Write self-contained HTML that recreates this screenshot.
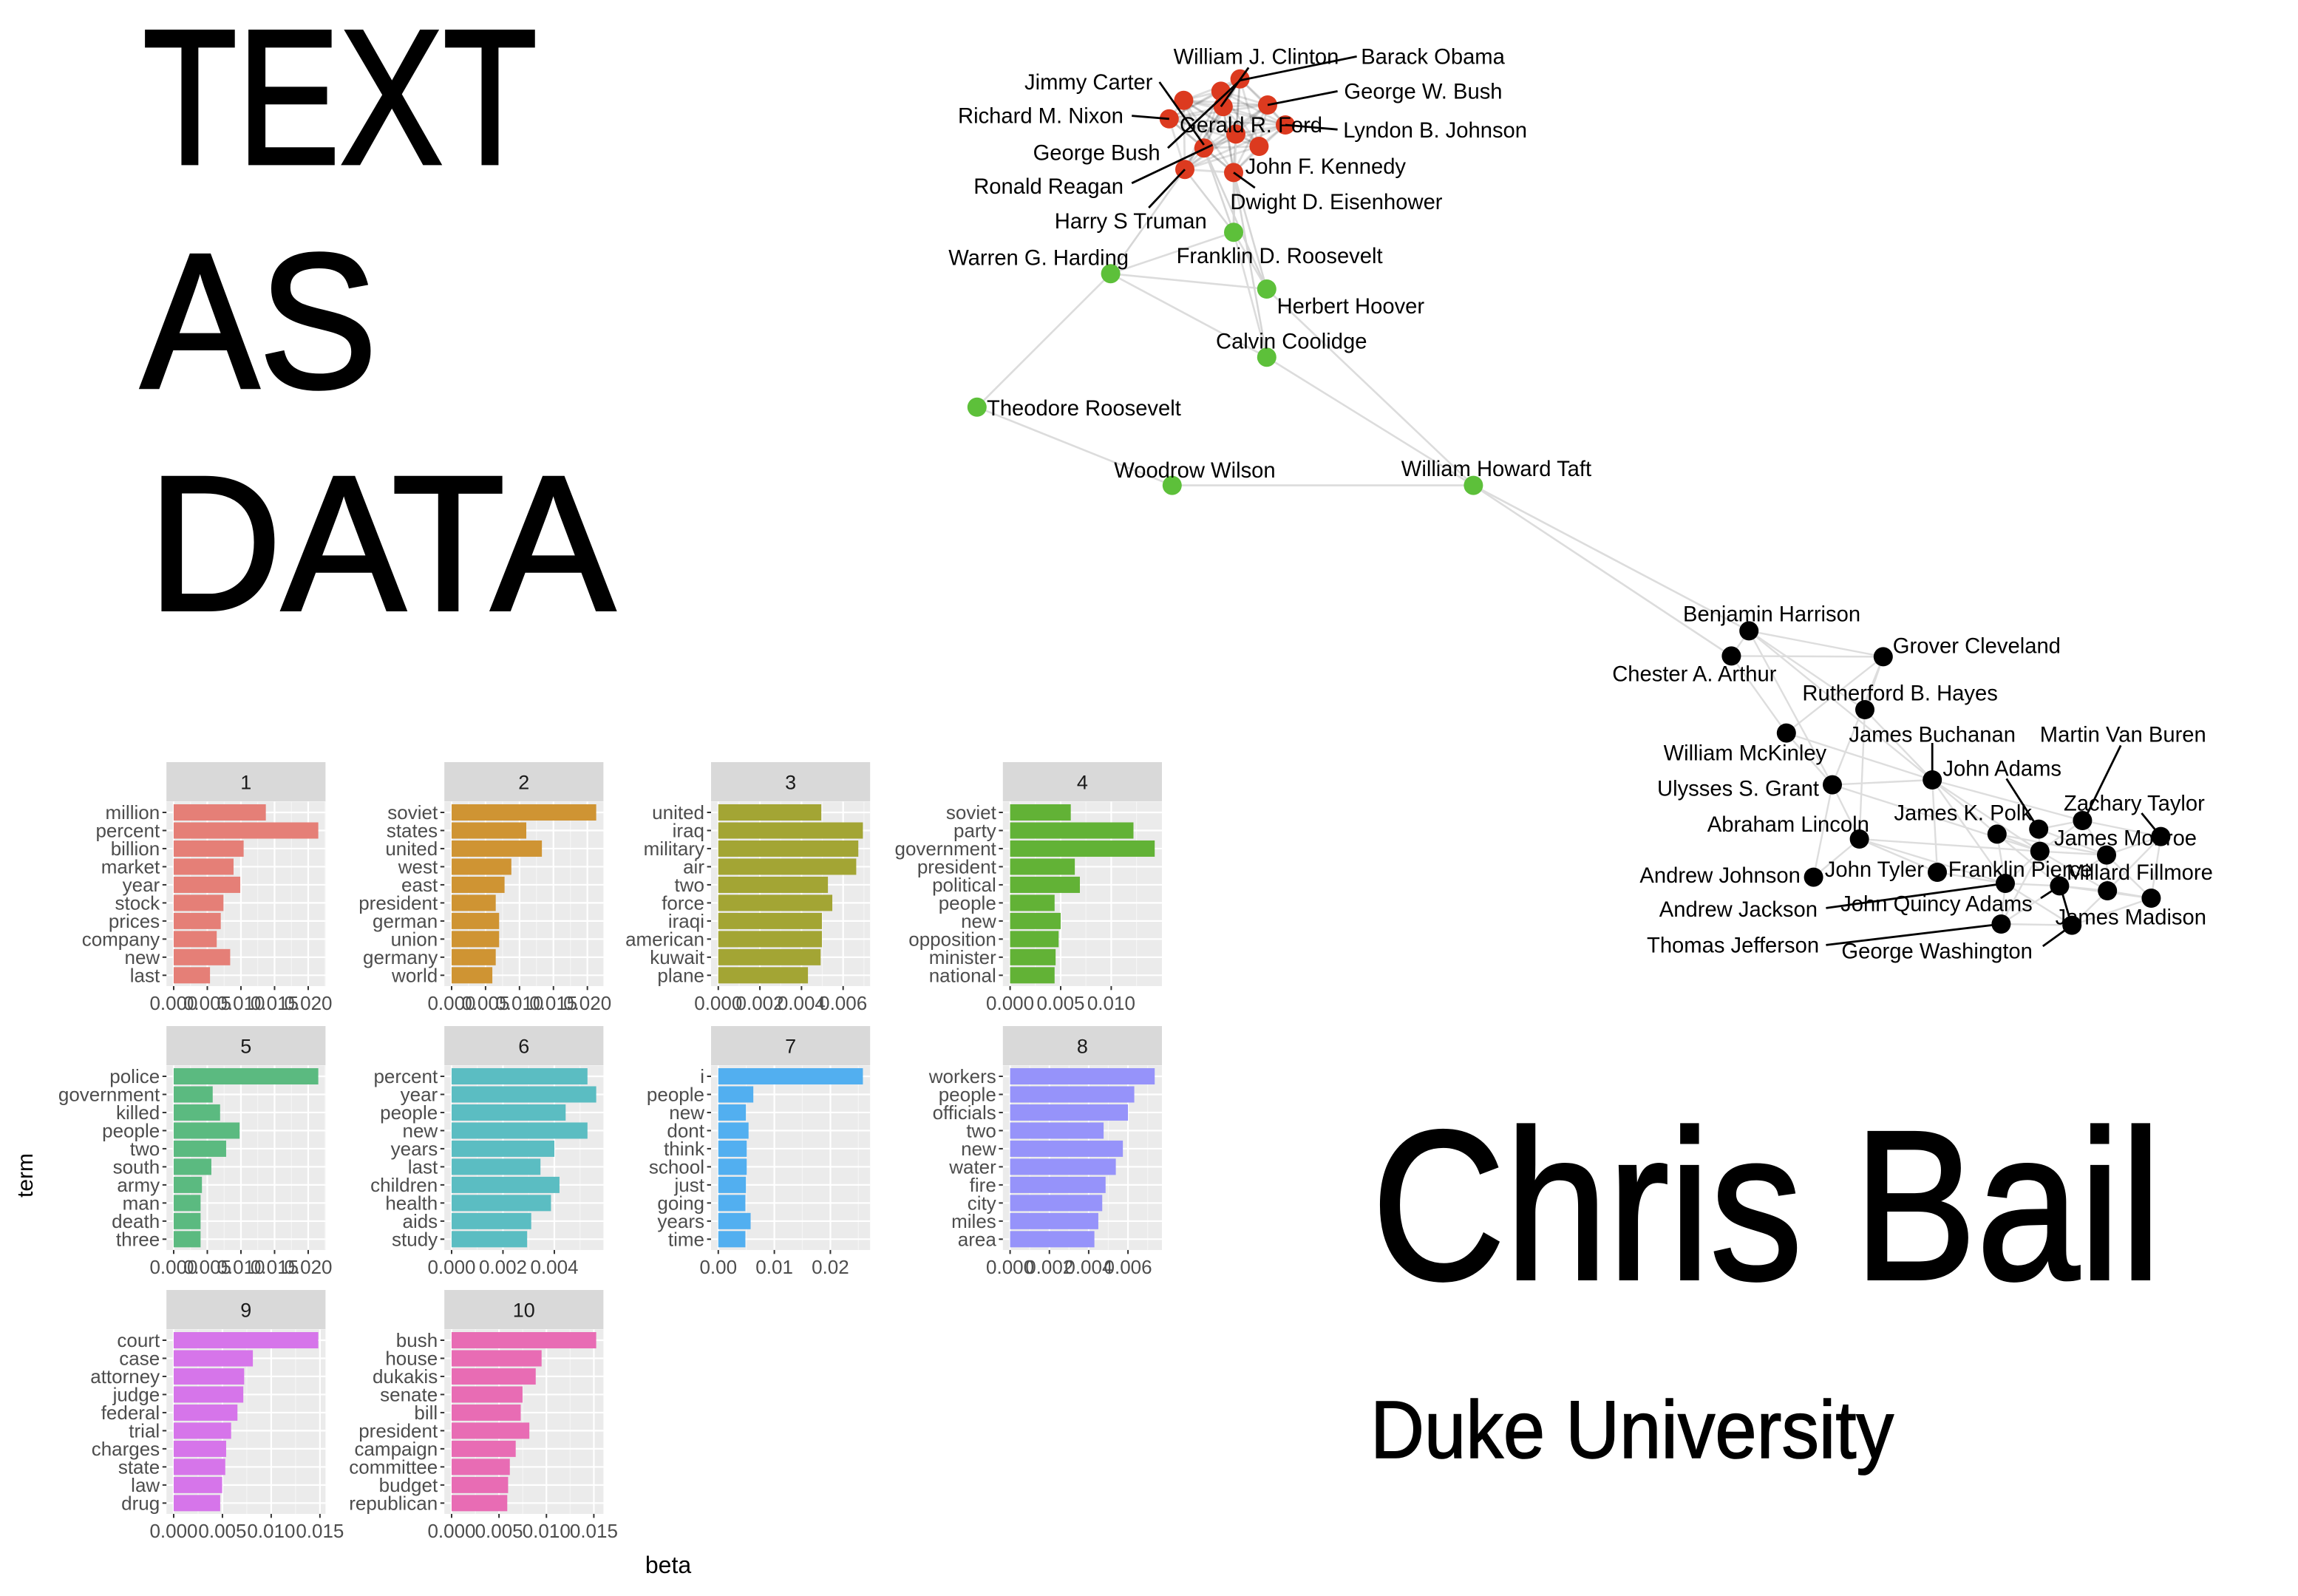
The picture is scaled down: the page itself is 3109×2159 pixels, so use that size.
<!DOCTYPE html>
<html><head><meta charset="utf-8"><style>
html,body{margin:0;padding:0;background:#fff;}
svg{display:block;}
text{font-family:"Liberation Sans",sans-serif;}
</style></head><body>
<svg id="root" xmlns="http://www.w3.org/2000/svg" width="3109" height="2159" viewBox="0 0 1554.5 1079.5">
<rect x="0" y="0" width="1554.5" height="1079.5" fill="#fff"/>
<g fill="#000" stroke="#000" stroke-width="2.2">
<text x="96.6" y="110.6" font-size="130" textLength="266.8" lengthAdjust="spacingAndGlyphs">TEXT</text>
<text x="95.2" y="262" font-size="130" textLength="160" lengthAdjust="spacingAndGlyphs">AS</text>
<text x="100" y="412.4" font-size="130" textLength="316" lengthAdjust="spacingAndGlyphs">DATA</text>
</g>
<text x="928" y="865" font-size="144" fill="#000" stroke="#000" stroke-width="2" textLength="534" lengthAdjust="spacingAndGlyphs">Chris Bail</text>
<text x="927" y="986" font-size="55" fill="#000" stroke="#000" stroke-width="0.8" textLength="354" lengthAdjust="spacingAndGlyphs">Duke University</text>
<g id="net"></g>
<g id="bars"></g>
</svg>
<script>
// ---- Topic model data ----
const topicIds = ["1","2","3","4","5","6","7","8","9","10"];
const terms1 = ["million","percent","billion","market","year","stock","prices","company","new","last"];
const betas1 = [0.0137,0.0215,0.0104,0.0089,0.0099,0.0074,0.0070,0.0064,0.0084,0.0054];
const terms2 = ["soviet","states","united","west","east","president","german","union","germany","world"];
const betas2 = [0.0213,0.0110,0.0133,0.0088,0.0078,0.0065,0.0070,0.0070,0.0065,0.0060];
const terms3 = ["united","iraq","military","air","two","force","iraqi","american","kuwait","plane"];
const betas3 = [0.00495,0.00695,0.00673,0.00663,0.00527,0.00548,0.00498,0.00498,0.00492,0.00431];
const terms4 = ["soviet","party","government","president","political","people","new","opposition","minister","national"];
const betas4 = [0.0060,0.0122,0.0143,0.0064,0.0069,0.0044,0.0050,0.0048,0.0045,0.0044];
const terms5 = ["police","government","killed","people","two","south","army","man","death","three"];
const betas5 = [0.0215,0.0058,0.0069,0.0098,0.0078,0.0056,0.0042,0.0040,0.0040,0.0040];
const terms6 = ["percent","year","people","new","years","last","children","health","aids","study"];
const betas6 = [0.00529,0.00563,0.00444,0.00529,0.0040,0.00346,0.0042,0.00387,0.0031,0.00294];
const terms7 = ["i","people","new","dont","think","school","just","going","years","time"];
const betas7 = [0.0258,0.00625,0.00493,0.0054,0.00507,0.00507,0.00493,0.00483,0.00577,0.00483];
const terms8 = ["workers","people","officials","two","new","water","fire","city","miles","area"];
const betas8 = [0.00736,0.00632,0.0060,0.00476,0.00574,0.00538,0.00486,0.00469,0.00449,0.00429];
const terms9 = ["court","case","attorney","judge","federal","trial","charges","state","law","drug"];
const betas9 = [0.01483,0.00812,0.00723,0.00714,0.00654,0.00589,0.00538,0.00529,0.00497,0.00477];
const terms10 = ["bush","house","dukakis","senate","bill","president","campaign","committee","budget","republican"];
const betas10 = [0.01525,0.00949,0.00887,0.00748,0.00729,0.00820,0.00676,0.00614,0.00596,0.00587];
const tickVals1 = [0,0.005,0.010,0.015,0.020];
const tickLabs1 = ["0.000","0.005","0.010","0.015","0.020"];
const tickVals3 = [0,0.002,0.004,0.006];
const tickLabs3 = ["0.000","0.002","0.004","0.006"];
const tickVals4 = [0,0.005,0.010];
const tickLabs4 = ["0.000","0.005","0.010"];
const tickVals6 = [0,0.002,0.004];
const tickLabs6 = ["0.000","0.002","0.004"];
const tickVals7 = [0,0.01,0.02];
const tickLabs7 = ["0.00","0.01","0.02"];
const tickVals9 = [0,0.005,0.010,0.015];
const tickLabs9 = ["0.000","0.005","0.010","0.015"];

const NS="http://www.w3.org/2000/svg";
function mk(tag,attrs,parent){const e=document.createElementNS(NS,tag);for(const k in attrs)e.setAttribute(k,attrs[k]);parent.appendChild(e);return e;}

const panels=[
 {terms:terms1,betas:betas1,tv:tickVals1,tl:tickLabs1,color:"#E57F77"},
 {terms:terms2,betas:betas2,tv:tickVals1,tl:tickLabs1,color:"#CF9433"},
 {terms:terms3,betas:betas3,tv:tickVals3,tl:tickLabs3,color:"#A3A534"},
 {terms:terms4,betas:betas4,tv:tickVals4,tl:tickLabs4,color:"#62B236"},
 {terms:terms5,betas:betas5,tv:tickVals1,tl:tickLabs1,color:"#5BBA80"},
 {terms:terms6,betas:betas6,tv:tickVals6,tl:tickLabs6,color:"#5BBDC2"},
 {terms:terms7,betas:betas7,tv:tickVals7,tl:tickLabs7,color:"#52AFF0"},
 {terms:terms8,betas:betas8,tv:tickVals3,tl:tickLabs3,color:"#9693FA"},
 {terms:terms9,betas:betas9,tv:tickVals9,tl:tickLabs9,color:"#D675EA"},
 {terms:terms10,betas:betas10,tv:tickVals9,tl:tickLabs9,color:"#E86CB4"}
];
const colLeft=[112.6,300.6,481,678.4];
const rowTop=[515.5,694,872.5];
const PW=107.6, SH=26.5, STEP=12.24, FS=13;
const bars=document.getElementById('bars');
panels.forEach((p,idx)=>{
  const r=Math.floor(idx/4), c=idx%4;
  const L=colLeft[c], T=rowTop[r];
  const g=mk('g',{},bars);
  
  
  const strip=mk('rect',{x:L,y:T,width:PW,height:SH,fill:'#d9d9d9'},g);
  
  
  const st=mk('text',{x:L+PW/2,y:T+SH/2+5,'font-size':13.5,fill:'#1a1a1a','text-anchor':'middle'},g);
  st.textContent=topicIds[idx];
  
  
  const pT=T+SH+0.2, n=p.terms.length;
  const pB=pT+STEP*(n-1)+2*7.3;
  const bg=mk('rect',{x:L,y:pT,width:PW,height:pB-pT,fill:'#ebebeb'},g);
  
  
  const mx=Math.max(...p.betas);
  const k=PW/(1.1*mx);
  const x=v=>L+0.05*mx*k+v*k;
  const y=i=>pT+7.3+i*STEP;
  const step=p.tv[1]-p.tv[0];
  for(let v=step/2; v<=mx*1.05; v+=step){
    const ln=mk('line',{x1:x(v),x2:x(v),y1:pT,y2:pB,stroke:'#f5f5f5','stroke-width':0.6},g);
    
    
  }
  p.tv.forEach(v=>{
    const ln=mk('line',{x1:x(v),x2:x(v),y1:pT,y2:pB,stroke:'#fff','stroke-width':1.1},g);
    
    
  });
  p.terms.forEach((t,i)=>{
    const ln=mk('line',{x1:L,x2:L+PW,y1:y(i),y2:y(i),stroke:'#fff','stroke-width':1.1},g);
    
    
  });
  p.terms.forEach((t,i)=>{
    const b=mk('rect',{x:x(0),y:y(i)-5.5,width:x(p.betas[i])-x(0),height:11,fill:p.color},g);
    
    
    const tk=mk('line',{x1:L-2.7,x2:L,y1:y(i),y2:y(i),stroke:'#333','stroke-width':1},g);
    
    
    const lb=mk('text',{x:L-4.5,y:y(i)+4.6,'font-size':FS,fill:'#4d4d4d','text-anchor':'end'},g);
    lb.textContent=t;
    
    
  });
  p.tv.forEach((v,j)=>{
    const tk=mk('line',{x1:x(v),x2:x(v),y1:pB,y2:pB+2.7,stroke:'#333','stroke-width':1},g);
    
    
    const lb=mk('text',{x:x(v),y:pB+16,'font-size':FS,fill:'#4d4d4d','text-anchor':'middle'},g);
    lb.textContent=p.tl[j];
    
    
  });
});
const yt=mk('text',{x:0,y:0,'font-size':15,fill:'#000','text-anchor':'middle',transform:'translate(22,795) rotate(-90)'},bars);
yt.textContent='term';


const xt=mk('text',{x:452,y:1064,'font-size':16,fill:'#000','text-anchor':'middle'},bars);
xt.textContent='beta';



// ---- Network ----
const red=[[838.8,53.4],[825.9,61.7],[800.7,67.9],[857.5,71],[827.4,72.1],[790.9,80.4],[869.5,84.5],[836,90.7],[851.7,99],[814.4,100.1],[801.5,114.6],[834.5,116.7]];
const green=[[834.5,157.1],[751.3,185.1],[856.9,195.5],[856.9,241.6],[660.9,275.4],[792.9,328.3],[996.7,328.3]];
const blk=[[1183.1,426.7],[1171.2,443.7],[1273.9,444.2],[1261.5,480],[1208.4,495.8],[1239.5,530.8],[1307.1,527.5],[1379.1,560.8],[1257.8,567.5],[1350.9,564.2],[1408.7,555],[1461.7,565.8],[1379.9,575.8],[1425,578.3],[1226.8,593.3],[1310.5,590],[1356.5,597.5],[1393.2,599.2],[1425.6,602.5],[1455.2,607.5],[1353.7,625],[1401.6,625.8]];
const net=document.getElementById('net');
function edge(a,b,col,w){const l=mk('line',{x1:a[0],y1:a[1],x2:b[0],y2:b[1],stroke:col,'stroke-width':w},net);

}
for(let i=0;i<red.length;i++)for(let j=i+1;j<red.length;j++)edge(red[i],red[j],'rgba(0,0,0,0.13)',1.4);
const gE=[[1,0],[1,2],[1,3],[1,4],[4,5],[5,6],[2,6],[3,6],[3,0],[2,0]];
gE.forEach(e=>edge(green[e[0]],green[e[1]],'#dcdcdc',1.3));
[[1,10],[0,10],[0,11],[0,9],[2,11],[2,9],[3,11],[0,7]].forEach(e=>edge(green[e[0]],red[e[1]],'#d6d6d6',1.3));
edge(green[6],blk[1],'#dcdcdc',1.3);edge(green[6],blk[0],'#dcdcdc',1.3);
const bE=[[0,1],[0,2],[1,2],[0,3],[0,5],[0,6],[1,4],[2,3],[2,4],[2,5],[3,6],[3,8],[4,6],[4,5],[5,14],[5,6],[5,8],[5,12],[6,15],[6,9],[6,12],[6,10],[6,16],[8,15],[8,12],[8,14],[8,16],[9,12],[9,13],[9,17],[10,11],[10,13],[10,12],[11,13],[11,18],[11,19],[12,13],[12,16],[12,17],[12,18],[13,17],[13,18],[13,19],[16,17],[16,20],[16,21],[17,18],[17,19],[17,21],[18,19],[20,21],[18,21],[19,21],[15,16],[7,12],[7,10],[7,13],[9,16],[20,17],[12,20]];
bE.forEach(e=>edge(blk[e[0]],blk[e[1]],'#dddddd',1.2));
function node(p,col){const c=mk('circle',{cx:p[0],cy:p[1],r:6.5,fill:col},net);

}
red.forEach(p=>node(p,'#DC3A1F'));
green.forEach(p=>node(p,'#5DC03A'));
blk.forEach(p=>node(p,'#000'));
const leaders=[[917.8,38.2,838.8,54.4],[844.6,45.7,825.9,72.1],[790,100.1,838.8,54.4],[784.3,55.5,814.4,98],[765.6,78.3,790.9,80.4],[904.8,61.7,857.5,71],[904.8,87.6,869.5,84.5],[765.6,123.9,820.2,98],[777.1,140.5,801.5,114.6],[848.9,127,834.5,116.7],
[1307.1,502.5,1307.1,527.5],[1434.6,504.2,1410.1,554.2],[1357.3,526.7,1379.1,560.8],[1448.7,550,1461.7,565.8],[1235.2,614.2,1356.5,597.5],[1380.5,607.5,1393.2,599.2],[1394.6,602.5,1400.2,621.7],[1235.2,639.2,1353.7,625],[1381.9,640,1401.6,625.8]];
leaders.forEach(l=>{const e=mk('line',{x1:l[0],y1:l[1],x2:l[2],y2:l[3],stroke:'#000','stroke-width':1.4},net);

});
const labels=[["William J. Clinton",793.8,38.2],["Barack Obama",920.6,38.2],["Jimmy Carter",693,55.5],["George W. Bush",909.2,61.7],["Richard M. Nixon",648,78.3],["Gerald R. Ford",798,84.5],["Lyndon B. Johnson",908.6,88],["George Bush",698.8,103.2],["John F. Kennedy",842.3,112.5],["Ronald Reagan",658.6,126],["Dwight D. Eisenhower",832.2,136.4],["Harry S Truman",713.4,149.4],["Warren G. Harding",641.6,174.3],["Franklin D. Roosevelt",795.8,173],["Herbert Hoover",863.8,207],["Calvin Coolidge",822.5,230.8],["Theodore Roosevelt",667.5,276],["Woodrow Wilson",753.6,318],["William Howard Taft",947.9,316.9],
["Benjamin Harrison",1138.5,415.3],["Grover Cleveland",1280.4,436.7],["Chester A. Arthur",1090.6,455.8],["Rutherford B. Hayes",1219.2,468.7],["James Buchanan",1250.7,496.7],["Martin Van Buren",1379.9,496.7],["William McKinley",1125.3,509.2],["John Adams",1314.2,519.7],["Ulysses S. Grant",1121,533.3],["Zachary Taylor",1396,543.3],["James K. Polk",1281.2,549.7],["Abraham Lincoln",1154.9,557.5],["James Monroe",1389.5,566.7],["Andrew Johnson",1109.2,592],["John Tyler",1234.4,588],["Franklin Pierce",1317.9,588],["Millard Fillmore",1398,590],["Andrew Jackson",1122.4,615],["John Quincy Adams",1245.1,611.3],["James Madison",1390.3,620.3],["Thomas Jefferson",1114,639.2],["George Washington",1245.7,643.3]];
labels.forEach(l=>{const t=mk('text',{x:l[1],y:l[2]+5,'font-size':14.6,fill:'#000'},net);
t.textContent=l[0];

});
</script>
</body></html>
